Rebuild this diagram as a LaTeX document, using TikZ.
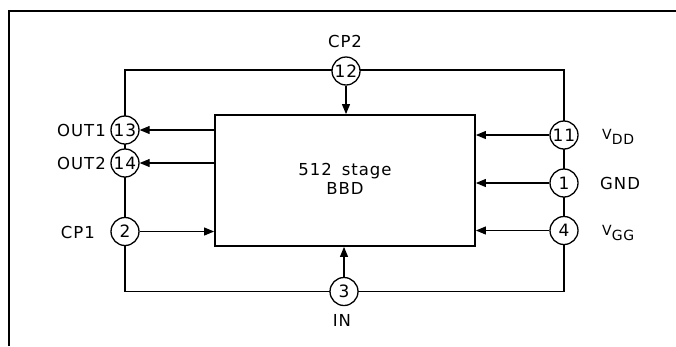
\documentclass[tikz,border=0pt]{standalone}
\usepackage{fontspec}
\setmainfont{DejaVu Sans}[LetterSpace=6,WordSpace=1.6]
\usetikzlibrary{arrows.meta}
\begin{document}
\begin{tikzpicture}[x=1pt,y=-1pt,
  wire/.style={line width=1.8pt,line join=miter},
  sig/.style={line width=1.1pt,-{Triangle[length=10pt,width=8pt]}},
  pin/.style={circle,draw,line width=1.3pt,fill=white,minimum size=28pt,inner sep=0pt,font=\fontsize{17}{17}\selectfont},
  lbl/.style={font=\fontsize{16.5}{16.5}\selectfont,inner sep=0pt},
  chip/.style={draw,line width=1.8pt,minimum width=260pt,minimum height=131pt,inner sep=0pt}]
\useasboundingbox (0,0) rectangle (676,346);
% frame
\draw[line width=2pt] (9,346) -- (9,11) -- (676,11);
% chip
\node[chip] (bbd) at (345,180.5) {};
\node[lbl,align=center] (txt) at (345,179) {512 stage\\[3pt]BBD};
% wire corners
\coordinate (tl) at (125,70);
\coordinate (tr) at (564,70);
\coordinate (bl) at (125,291.5);
\coordinate (br) at (564,291.5);
% wires
\draw[wire] (bl) -- (tl) -- (tr) -- (br) -- cycle;
% pins
\node[pin] (p12) at (346,71) {12};
\node[pin] (p13) at (125,130) {13};
\node[pin] (p14) at (125,163) {14};
\node[pin] (p2) at (125,231.5) {2};
\node[pin] (p3) at (344,291.5) {3};
\node[pin] (p11) at (564,135) {11};
\node[pin] (p1) at (564,183) {1};
\node[pin] (p4) at (564,230.5) {4};
% signals
\draw[sig] (p12) -- (p12 |- bbd.north);
\draw[sig] (p3) -- (p3 |- bbd.south);
\draw[sig] (bbd.west |- p13) -- (p13);
\draw[sig] (bbd.west |- p14) -- (p14);
\draw[sig] (p2) -- (bbd.west |- p2);
\draw[sig] (p11) -- (bbd.east |- p11);
\draw[sig] (p1) -- (bbd.east |- p1);
\draw[sig] (p4) -- (bbd.east |- p4);
% labels
\node[lbl] (lcp2) at (345,41) {CP2};
\node[lbl] (lin) at (342,320) {IN};
\node[lbl,anchor=east] (lout1) at (106,130) {OUT1};
\node[lbl,anchor=east] (lout2) at (106,163) {OUT2};
\node[lbl,anchor=east] (lcp1) at (95,232) {CP1};
\node[lbl,anchor=west,font=\fontsize{14}{14}\selectfont] (lvdd) at (602,137) {V\raisebox{-5pt}{DD}};
\node[lbl,anchor=west] (lgnd) at (600,183) {GND};
\node[lbl,anchor=west,font=\fontsize{14}{14}\selectfont] (lvgg) at (602,233) {V\raisebox{-5pt}{GG}};
\end{tikzpicture}
\end{document}
